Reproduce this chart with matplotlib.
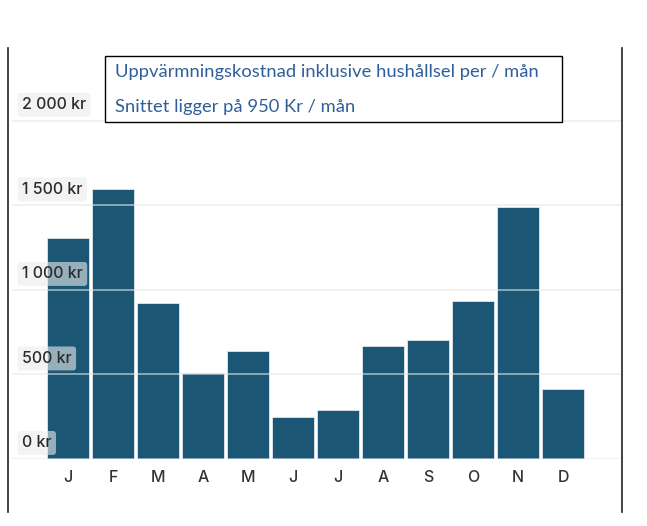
import matplotlib.pyplot as plt
from matplotlib.lines import Line2D
from matplotlib.patches import Rectangle

# data
months = ['J', 'F', 'M', 'A', 'M', 'J', 'J', 'A', 'S', 'O', 'N', 'D']
cost = [1305, 1595, 925, 510, 640, 250, 290, 670, 705, 935, 1490, 415]
ytick_vals = [0, 500, 1000, 1500, 2000]
ytick_labels = ['0 kr', '500 kr', '1 000 kr', '1 500 kr', '2 000 kr']
title_lines = ['Uppvärmningskostnad inklusive hushållsel per / mån',
               'Snittet ligger på 950 Kr / mån']

W, H = 647, 526
fig = plt.figure(figsize=(W / 100, H / 100), dpi=100)
fig.patch.set_facecolor('white')

ax_w = 610
ax = fig.add_axes([12 / W, (H - 459) / H, ax_w / W, 409 / H])
x = list(range(len(months)))
ax.bar(x, cost, width=0.93, color='#1b5675', edgecolor='#dfe8ee', linewidth=0.6, zorder=2)

ax.set_xlim(-1.244, 12.31)
ax.set_ylim(0, 2420)
for s in ax.spines.values():
    s.set_visible(False)

# gridlines drawn on top of the bars, light
for v in ytick_vals:
    ax.axhline(v, color='#e6e6e6', alpha=0.65, linewidth=1.2, zorder=3)

ax.set_yticks([])
ax.set_xticks(x)
ax.set_xticklabels(months, fontsize=11.5, color='#333333', family='Inter', fontweight='medium')
ax.tick_params(axis='x', length=0, pad=8)

# y labels inside the plot
for v, lab in zip(ytick_vals, ytick_labels):
    ax.text(10 / ax_w, v + 95, lab, transform=ax.get_yaxis_transform(),
            fontsize=11.5, color='#2b2b2b', family='Inter', fontweight='medium',
            va='center', ha='left', zorder=4,
            bbox=dict(boxstyle='round,pad=0.28,rounding_size=0.2',
                      facecolor='#ebebeb', edgecolor='none', alpha=0.6))

# title box
fig.patches.append(Rectangle((105 / W, (H - 122) / H), 457 / W, 66 / H,
                             transform=fig.transFigure, facecolor='white',
                             edgecolor='black', linewidth=1.0, zorder=5))
fig.text(115 / W, (H - 72) / H, title_lines[0], fontsize=13.2, color='#2f5f9a',
         family='Lato', va='center', ha='left', zorder=6)
fig.text(115 / W, (H - 107) / H, title_lines[1], fontsize=13.2, color='#2f5f9a',
         family='Lato', va='center', ha='left', zorder=6)

# side borders of the screenshot
for xp in (8, 622):
    fig.add_artist(Line2D([xp / W, xp / W], [(H - 512) / H, (H - 48) / H],
                          transform=fig.transFigure, color='#222222', linewidth=1.2))

fig.savefig('out.png', dpi=100)
